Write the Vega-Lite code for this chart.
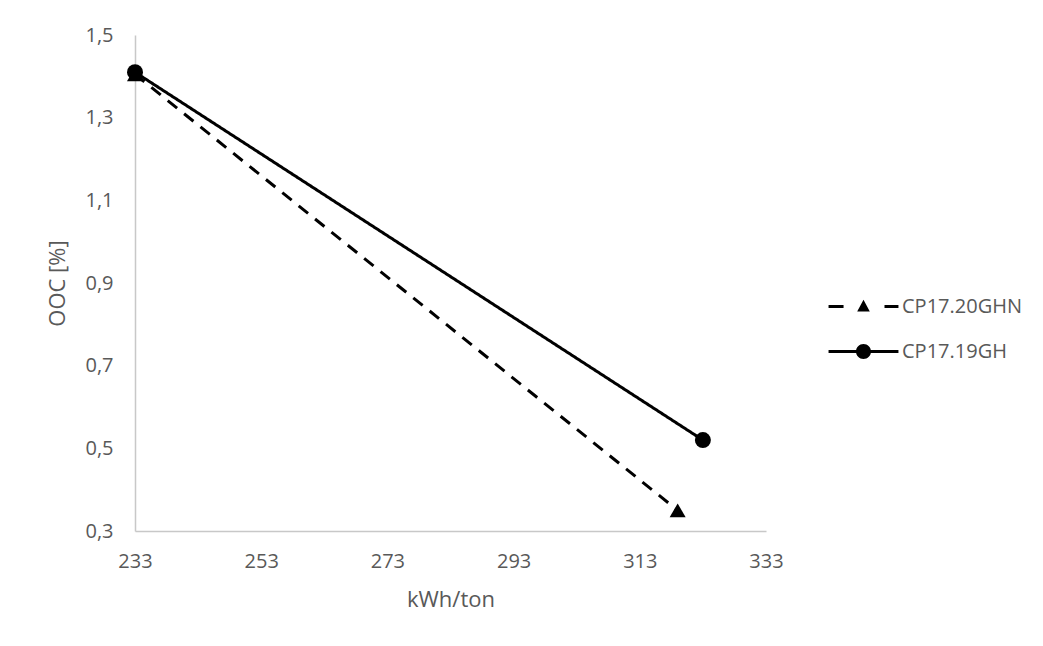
{
  "$schema": "https://vega.github.io/schema/vega-lite/v6.json",
  "width": 631,
  "height": 496,
  "autosize": "none",
  "padding": {"left": 135, "top": 35, "right": 277, "bottom": 115},
  "background": "white",
  "data": {
    "values": [
      {"series": "CP17.20GHN", "kwh": 233, "ooc": 1.405},
      {"series": "CP17.20GHN", "kwh": 319, "ooc": 0.35},
      {"series": "CP17.19GH", "kwh": 233, "ooc": 1.41},
      {"series": "CP17.19GH", "kwh": 323, "ooc": 0.52}
    ]
  },
  "encoding": {
    "x": {
      "field": "kwh", "type": "quantitative", "title": "kWh/ton",
      "scale": {"domain": [233, 333], "nice": false, "zero": false},
      "axis": {"values": [233, 253, 273, 293, 313, 333], "format": "d", "titlePadding": 18, "labelPadding": 20}
    },
    "y": {
      "field": "ooc", "type": "quantitative", "title": "OOC [%]",
      "scale": {"domain": [0.3, 1.5], "nice": false, "zero": false},
      "axis": {"values": [0.3, 0.5, 0.7, 0.9, 1.1, 1.3, 1.5], "labelExpr": "replace(format(datum.value, '.1f'), '.', ',')", "labelPadding": 22, "titlePadding": 15}
    }
  },
  "layer": [
    {
      "mark": {"type": "line", "color": "black", "strokeWidth": 3},
      "encoding": {
        "detail": {"field": "series"},
        "strokeDash": {
          "field": "series", "type": "nominal", "legend": null,
          "scale": {"domain": ["CP17.19GH", "CP17.20GHN"], "range": [[1, 0], [12, 9]]}
        }
      }
    },
    {
      "mark": {"type": "point", "filled": true, "color": "black", "opacity": 1, "size": 256},
      "encoding": {
        "shape": {
          "condition": {"test": "datum.series === 'CP17.20GHN'", "value": "triangle-up"},
          "value": "circle"
        }
      }
    },
    {
      "mark": {"type": "point", "filled": true, "color": "black", "opacity": 0, "size": 900},
      "encoding": {
        "shape": {
          "field": "series", "type": "nominal", "title": null,
          "scale": {
            "domain": ["CP17.20GHN", "CP17.19GH"],
            "range": [
              "M-2.33,-0.1H-1.33V0.1H-2.33ZM1.4,-0.1H2.33V0.1H1.4ZM0,-0.45L0.42,0.33L-0.42,0.33Z",
              "M-2.33,-0.1H-0.4V0.1H-2.33ZM0.4,-0.1H2.33V0.1H0.4ZM0.5,0A0.5,0.5,0,1,1,-0.5,0A0.5,0.5,0,1,1,0.5,0Z"
            ]
          },
          "legend": {
            "orient": "none",
            "legendX": 712,
            "legendY": 255,
            "symbolSize": 900,
            "symbolOpacity": 1,
            "symbolStrokeWidth": 3,
            "symbolFillColor": "black",
            "labelOffset": 22,
            "rowPadding": 17,
            "labelFontSize": 20,
            "labelFont": "Open Sans",
            "labelColor": "#595959"
          }
        }
      }
    }
  ],
  "config": {
    "view": {"stroke": null},
    "axis": {
      "grid": false,
      "ticks": false,
      "labelFlush": false,
      "labelOverlap": false,
      "domainColor": "#c8c8c8",
      "domainWidth": 1.5,
      "labelFont": "Open Sans",
      "labelFontSize": 20,
      "labelColor": "#595959",
      "titleFont": "Open Sans",
      "titleFontSize": 22,
      "titleFontWeight": "normal",
      "titleColor": "#595959"
    }
  }
}
